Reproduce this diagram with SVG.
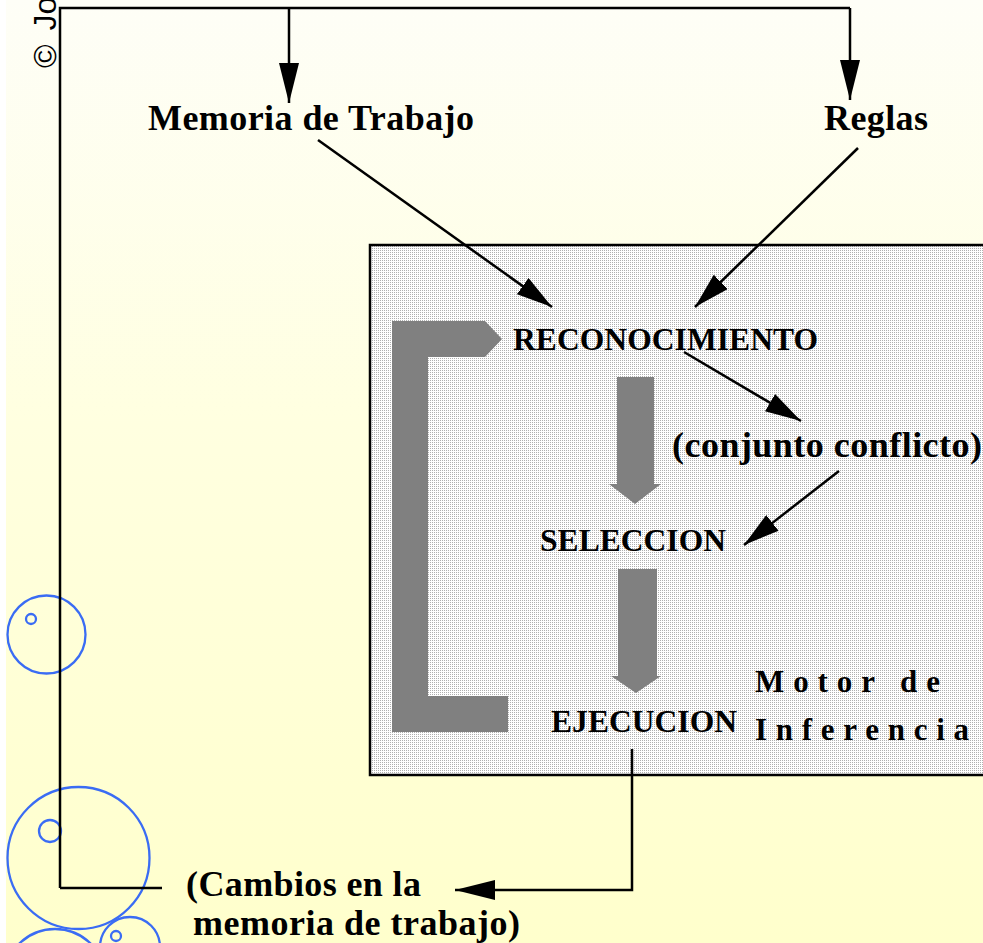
<svg xmlns="http://www.w3.org/2000/svg" width="983" height="943" viewBox="0 0 983 943">
  <defs>
    <linearGradient id="bg" x1="0" y1="0" x2="0" y2="1">
      <stop offset="0" stop-color="#fefef7"/>
      <stop offset="0.45" stop-color="#ffffe0"/>
      <stop offset="1" stop-color="#ffffcc"/>
    </linearGradient>
    <pattern id="dots" width="2" height="2" patternUnits="userSpaceOnUse">
      <rect width="2" height="2" fill="#ffffff"/>
      <rect width="1" height="1" fill="#b0b0b0"/>
    </pattern>
    <marker id="ah" markerUnits="userSpaceOnUse" markerWidth="40" markerHeight="20" refX="40" refY="10" orient="auto" viewBox="0 0 40 20">
      <path d="M0,0 L40,10 L0,20 Z" fill="#000"/>
    </marker>
    <marker id="ahs" markerUnits="userSpaceOnUse" markerWidth="36" markerHeight="20" refX="36" refY="10" orient="auto" viewBox="0 0 36 20">
      <path d="M0,0 L36,10 L0,20 Z" fill="#000"/>
    </marker>
  </defs>
  <style>
    .lbl { font-family: "Liberation Serif", "Times New Roman", serif; font-weight: bold; fill: #000; }
    .big { font-size: 36px; }
    .mid { font-size: 31.5px; }
    .sp { font-size: 31px; }
    .conn { stroke: #000; stroke-width: 2.5; fill: none; }
    .bub { stroke: #3a6cf4; stroke-width: 2.3; fill: none; }
    .gray { fill: #808080; }
  </style>

  <rect x="0" y="0" width="983" height="943" fill="#ffffff"/>
  <rect x="6" y="0" width="977" height="943" fill="url(#bg)"/>

  <text transform="translate(56,68) rotate(-90)" font-family="Liberation Sans, Arial, sans-serif" font-size="32" fill="#000">©<tspan dx="14">Jo</tspan></text>

  <g id="bubbles">
    <circle class="bub" cx="46.5" cy="634.5" r="39"/>
    <circle class="bub" cx="31" cy="619" r="5"/>
    <circle class="bub" cx="78.5" cy="858" r="71"/>
    <circle class="bub" cx="50" cy="831" r="11"/>
    <circle class="bub" cx="130" cy="947" r="30"/>
    <circle class="bub" cx="116" cy="936" r="5"/>
    <circle class="bub" cx="55" cy="980" r="51"/>
  </g>

  <g id="motor">
    <rect x="370" y="245" width="640" height="530" fill="url(#dots)" stroke="#000" stroke-width="2.5"/>
    <text class="lbl sp" x="755" y="692" textLength="185" lengthAdjust="spacing">Motor de</text>
    <text class="lbl sp" x="755" y="740" textLength="214" lengthAdjust="spacing">Inferencia</text>
  </g>

  <g id="cycle">
    <path class="gray" d="M392,321 L485,321 L502,339 L485,357 L428,357 L428,696 L508,696 L508,732 L392,732 Z"/>
    <path class="gray" d="M617,377 L654,377 L654,484 L661,484 L635,504 L609,484 L617,484 Z"/>
    <path class="gray" d="M618,569 L657,569 L657,676 L661,676 L636,693 L611,676 L618,676 Z"/>
  </g>

  <g id="memoria"><text class="lbl big" x="148" y="130" textLength="326">Memoria de Trabajo</text></g>
  <g id="reglas"><text class="lbl big" x="824" y="130" textLength="104">Reglas</text></g>
  <g id="reconocimiento"><text class="lbl mid" x="513" y="350" textLength="305">RECONOCIMIENTO</text></g>
  <g id="conjunto"><text class="lbl big" x="672" y="457" textLength="310">(conjunto conflicto)</text></g>
  <g id="seleccion"><text class="lbl mid" x="540" y="551" textLength="186">SELECCION</text></g>
  <g id="ejecucion"><text class="lbl mid" x="551" y="732" textLength="186">EJECUCION</text></g>
  <g id="cambios">
    <text class="lbl big" x="186" y="896" textLength="235">(Cambios en la</text>
    <text class="lbl big" x="193" y="935" textLength="327">memoria de trabajo)</text>
  </g>

  <g id="connectors">
    <path class="conn" d="M60,888 L60,8 L850,8"/>
    <path class="conn" d="M60,888 L162,888"/>
    <path class="conn" d="M289,8 L289,103" marker-end="url(#ah)"/>
    <path class="conn" d="M850,8 L850,100" marker-end="url(#ah)"/>
    <path class="conn" d="M318,140 L552,307" marker-end="url(#ahs)"/>
    <path class="conn" d="M858,148 L695,307" marker-end="url(#ahs)"/>
    <path class="conn" d="M684,352 L801,421" marker-end="url(#ahs)"/>
    <path class="conn" d="M839,471 L744,545" marker-end="url(#ahs)"/>
    <path class="conn" d="M632,749 L632,890 L455,890" marker-end="url(#ah)"/>
  </g>
</svg>
